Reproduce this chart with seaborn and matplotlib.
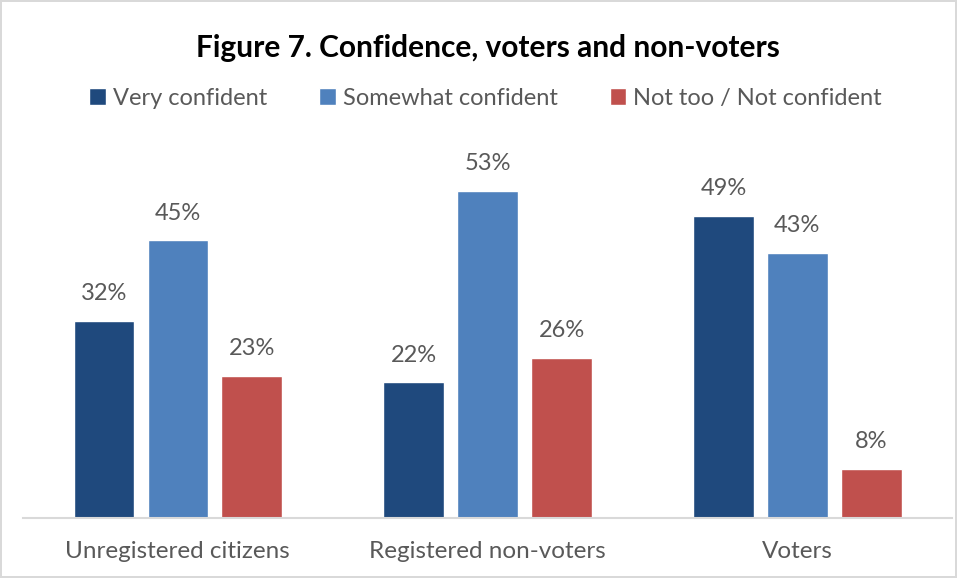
import pandas as pd
import seaborn as sns
import matplotlib.pyplot as plt

# Data
groups = ['Unregistered citizens', 'Registered non-voters', 'Voters']
series = ['Very confident', 'Somewhat confident', 'Not too / Not confident']
very = [32, 22, 49]
somewhat = [45, 53, 43]
not_conf = [23, 26, 8]
colors = ['#1F497D', '#4F81BD', '#C0504D']

df = pd.DataFrame({
    'Group': groups * 3,
    'Series': [series[0]] * 3 + [series[1]] * 3 + [series[2]] * 3,
    'Value': very + somewhat + not_conf,
})

sns.set_style('white')
plt.rcParams['font.family'] = ['Lato', 'DejaVu Sans']
text_gray = '#595959'

fig = plt.figure(figsize=(9.57, 5.78), dpi=100)
fig.patch.set_edgecolor('#D9D9D9')
fig.patch.set_linewidth(1.5)
ax = fig.add_axes([0.024, 0.104, 0.971, 0.654])

sns.barplot(data=df, x='Group', y='Value', hue='Series', palette=colors,
            width=0.716, gap=0.18, ax=ax, legend=True, saturation=1)

for cont in ax.containers:
    ax.bar_label(cont, fmt='%d%%', padding=12, fontsize=17, color=text_gray)

ax.set_ylim(0, 61.3)
ax.set_xlim(-0.5, 2.5)
ax.set_xlabel('')
ax.set_ylabel('')
ax.set_yticks([])
ax.tick_params(axis='x', length=0, labelsize=17.5, labelcolor=text_gray, pad=17)
for s in ['top', 'left', 'right']:
    ax.spines[s].set_visible(False)
ax.spines['bottom'].set_color('#D9D9D9')
ax.spines['bottom'].set_linewidth(1.5)

ax.legend(loc='center', bbox_to_anchor=(0.498, 1.11), ncol=3, frameon=False,
          fontsize=17, labelcolor=text_gray, handlelength=0.7, handleheight=0.7,
          handletextpad=0.3, columnspacing=2.2)

fig.text(0.51, 0.917, 'Figure 7. Confidence, voters and non-voters',
         ha='center', va='center', fontsize=21.5, fontweight='bold', color='black')

plt.savefig('out.png', dpi=100)
